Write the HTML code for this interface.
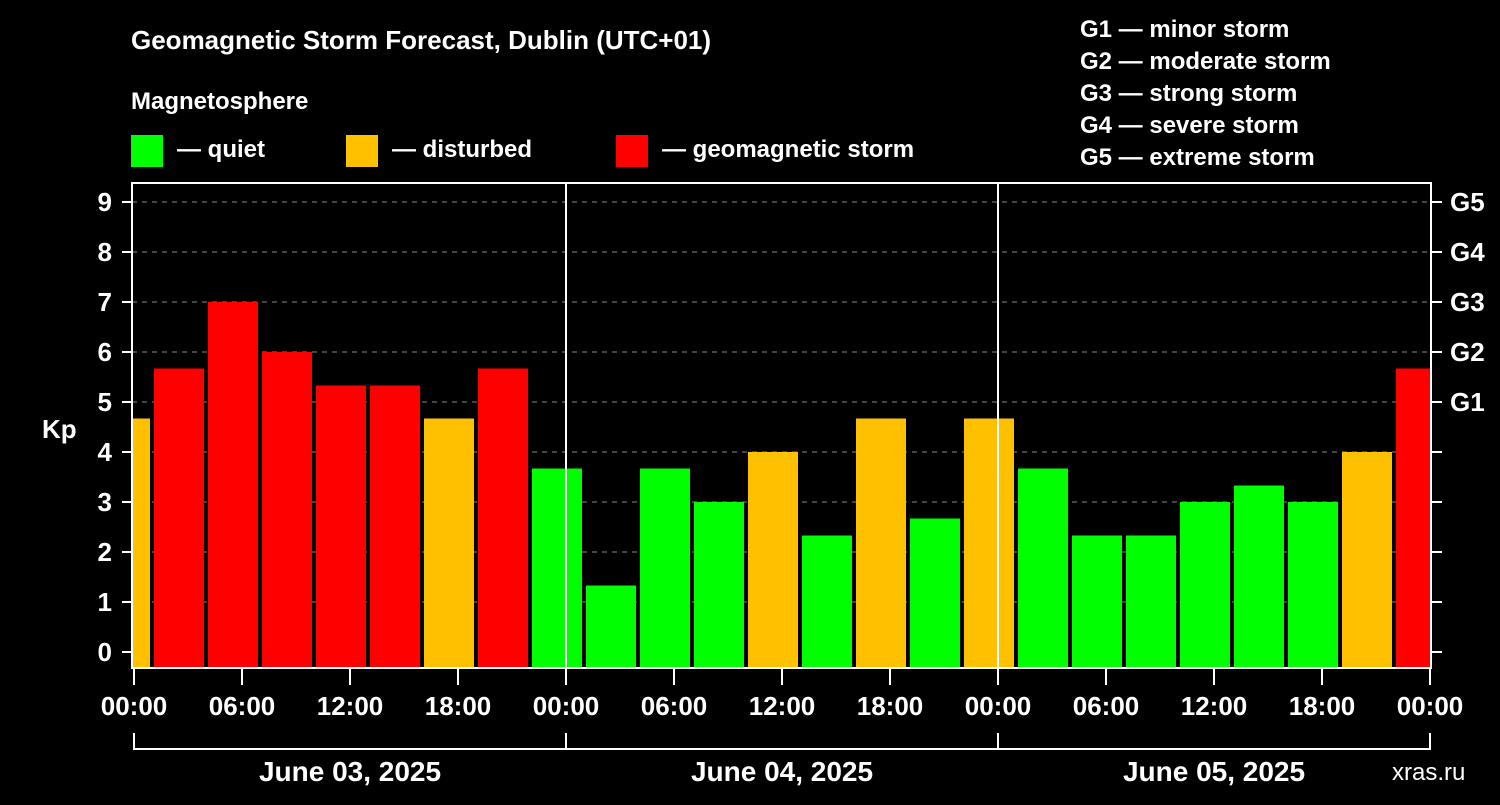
<!DOCTYPE html>
<html><head><meta charset="utf-8"><style>
body{margin:0;background:#000;width:1500px;height:800px;overflow:hidden;font-family:"Liberation Sans",sans-serif}
svg text{font-family:"Liberation Sans",sans-serif;font-weight:bold;fill:#fff}
</style></head><body>
<svg id="chart" width="1500" height="800" xmlns="http://www.w3.org/2000/svg">
<text x="131" y="49" font-size="26">Geomagnetic Storm Forecast, Dublin (UTC+01)</text>
<text x="131" y="109" font-size="24">Magnetosphere</text>
<g>
<rect x="131" y="135" width="32" height="32" fill="#00ff00"/>
<text x="177" y="157" font-size="24">— quiet</text>
<rect x="346" y="135" width="32" height="32" fill="#ffc000"/>
<text x="392" y="157" font-size="24">— disturbed</text>
<rect x="616" y="135" width="32" height="32" fill="#ff0000"/>
<text x="662" y="157" font-size="24">— geomagnetic storm</text>
</g>
<g font-size="24">
<text x="1080" y="37">G1 — minor storm</text>
<text x="1080" y="69">G2 — moderate storm</text>
<text x="1080" y="101">G3 — strong storm</text>
<text x="1080" y="133">G4 — severe storm</text>
<text x="1080" y="165">G5 — extreme storm</text>
</g>
<text x="42" y="438" font-size="26">Kp</text>
<text x="1392" y="780" font-size="24" fill="#ddd" style="font-weight:normal">xras.ru</text>
<g id="grid"></g><g id="bars"></g><g id="axes"></g>
</svg>
<script>
const kpValues=[4.67,5.67,7,6,5.33,5.33,4.67,5.67,3.67,1.33,3.67,3,4,2.33,4.67,2.67,4.67,3.67,2.33,2.33,3,3.33,3,4,5.67];
const yTicks=[0,1,2,3,4,5,6,7,8,9];
const gLabels=["G1","G2","G3","G4","G5"];
const xTickLabels=["00:00","06:00","12:00","18:00","00:00","06:00","12:00","18:00","00:00","06:00","12:00","18:00","00:00"];
const dayLabels=["June 03, 2025","June 04, 2025","June 05, 2025"];
const NS="http://www.w3.org/2000/svg";
const L=132,R=1431,T=183,B=668,X0=134,PXH=18;
const y=v=>652-v*50;
const x=h=>X0+h*PXH;
function mk(tag,attrs,parent,txt){const e=document.createElementNS(NS,tag);for(const k in attrs)e.setAttribute(k,attrs[k]);if(txt!==undefined)e.textContent=txt;parent.appendChild(e);return e;}
const grid=document.getElementById('grid'),bars=document.getElementById('bars'),axes=document.getElementById('axes');
yTicks.forEach(v=>{
 if(v>0){const g=mk('line',{x1:L,x2:R,y1:y(v),y2:y(v),stroke:'#888','stroke-width':1,'stroke-dasharray':'5,5'},grid);
 
 }
 const t=mk('line',{x1:122,x2:L,y1:y(v),y2:y(v),stroke:'#fff','stroke-width':2},axes);
 
 
 const lb=mk('text',{x:112,y:y(v)+9,'font-size':26,'text-anchor':'end'},axes,String(v));
 
 
 const rt=mk('line',{x1:R,x2:1442,y1:y(v),y2:y(v),stroke:'#fff','stroke-width':2},axes);
 
 
});
gLabels.forEach((g,i)=>{
 const t=mk('text',{x:1450,y:y(5+i)+9,'font-size':26},axes,g);
 
 
});
kpValues.forEach((v,i)=>{
 let h0=-2+3*i,h1=h0+3;
 let xa=Math.max(x(h0)+2,L),xb=Math.min(x(h1)-2,R);
 const col=v>=5?'#ff0000':(v>=4?'#ffc000':'#00ff00');
 const r=mk('rect',{x:xa,y:y(v),width:xb-xa,height:B-y(v),fill:col},bars);
 
 
});
[1,2].forEach(d=>{const l=mk('line',{x1:x(24*d),x2:x(24*d),y1:T,y2:B,stroke:'#fff','stroke-width':2},axes);
 
 });
const f=mk('rect',{x:L,y:T,width:R-L,height:B-T,fill:'none',stroke:'#fff','stroke-width':2},axes);


xTickLabels.forEach((s,i)=>{
 const xx=x(6*i);
 const t=mk('line',{x1:xx,x2:xx,y1:B,y2:685,stroke:'#fff','stroke-width':2},axes);
 
 
 const lb=mk('text',{x:xx,y:715,'font-size':26,'text-anchor':'middle'},axes,s);
 
 
});
const br=mk('path',{d:`M${x(0)} 733V749H${x(72)}V733 M${x(24)} 733V749 M${x(48)} 733V749`,fill:'none',stroke:'#fff','stroke-width':2},axes);


dayLabels.forEach((s,i)=>{
 const t=mk('text',{x:x(24*i+12),y:781,'font-size':28,'text-anchor':'middle'},axes,s);
 
 
});
</script>
</body></html>
